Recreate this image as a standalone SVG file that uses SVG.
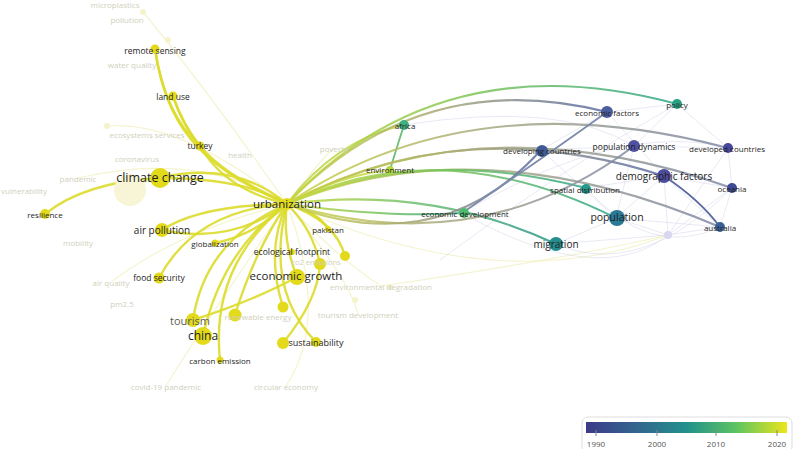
<svg xmlns="http://www.w3.org/2000/svg" width="797" height="449" viewBox="0 0 797 449">
<defs>
<style>
text{font-family:"Open Sans","Liberation Sans",sans-serif;text-anchor:middle;dominant-baseline:central}
.lb{fill:#1e1e1e;font-size:8.5px}
.fd{fill:#d0d0bc;font-size:8px}
.y{fill:#e3da1c}
.fn{fill:#f5f3cc}
.e{fill:none;stroke-linecap:round}
.ey{stroke:#dcdc2c;stroke-width:2.4;opacity:.9}
.er{stroke-width:2.1;opacity:.85}
.ef{stroke:#cfcfe8;stroke-width:1;opacity:.45}
.efy{stroke:#efedb0;stroke-width:1.2;opacity:.6}
</style>
<linearGradient id="gTeal" x1="0" y1="0" x2="1" y2="0"><stop offset="0" stop-color="#c9d93a"/><stop offset=".5" stop-color="#7cc45a"/><stop offset="1" stop-color="#2fa58a"/></linearGradient>
<linearGradient id="gBlue" x1="0" y1="0" x2="1" y2="0"><stop offset="0" stop-color="#c9d440"/><stop offset=".5" stop-color="#a7a77a"/><stop offset="1" stop-color="#5a6aa4"/></linearGradient>
<linearGradient id="gGray" x1="0" y1="0" x2="1" y2="0"><stop offset="0" stop-color="#cdd63e"/><stop offset=".45" stop-color="#a9aa82"/><stop offset="1" stop-color="#8088a6"/></linearGradient>
<linearGradient id="gMig" x1="0" y1="0" x2="1" y2="0"><stop offset="0" stop-color="#cfdb36"/><stop offset=".5" stop-color="#68be70"/><stop offset="1" stop-color="#27948c"/></linearGradient>
<linearGradient id="legend" x1="0" y1="0" x2="1" y2="0"><stop offset="0" stop-color="#3c3a88"/><stop offset=".25" stop-color="#33648e"/><stop offset=".5" stop-color="#21918c"/><stop offset=".75" stop-color="#5ec461"/><stop offset="1" stop-color="#ece51a"/></linearGradient>
</defs>
<rect width="797" height="449" fill="#ffffff"/>

<g id="connectors">
<path class="e efy" d="M287,204 Q200,80 143,12"/>
<path class="e efy" d="M287,204 Q180,120 107,126"/>
<path class="e efy" d="M287,204 Q200,150 78,178"/>
<path class="e efy" d="M287,204 Q180,230 111,282"/>
<path class="e efy" d="M287,204 Q330,320 286,386"/>
<path class="e efy" d="M287,204 Q340,260 381,286"/>
<path class="e efy" d="M287,204 Q350,280 358,314"/>
<path class="e efy" d="M287,204 Q200,330 166,386"/>
<path class="e efy" d="M287,204 Q320,160 334,148"/>
<path class="e efy" d="M130,190 Q200,150 287,204"/>
<path class="e efy" d="M287,204 Q500,300 668,235"/>
<path class="e efy" d="M381,286 Q560,260 668,235"/>
<path class="e ef" d="M541,150 L607,112 L677,104 L728,148 L732,188 L720,227 L668,235 L616,218 L556,244"/>
<path class="e ef" d="M541,150 L634,146 L728,148"/>
<path class="e ef" d="M586,188 L664,176 L732,188"/>
<path class="e ef" d="M616,218 L664,176 L668,235 L732,188"/>
<path class="e ef" d="M607,112 L664,176 L720,227"/>
<path class="e ef" d="M677,104 L634,146 L616,218"/>
<path class="e ef" d="M541,150 L616,218 L720,227"/>
<path class="e ef" d="M556,244 L668,235 L728,148"/>
<path class="e ef" d="M586,188 Q650,260 720,227"/>
<path class="e ef" d="M462,213 Q600,290 668,235"/>
<path class="e ef" d="M556,244 Q640,280 732,188"/>
<path class="e ef" d="M404,125 Q560,100 634,146"/>
<path class="e ef" d="M440,260 Q560,170 677,104"/>
<path class="e ef" d="M462,213 Q620,120 728,148"/>

<path class="e ey" d="M155,49 Q165,115 200,146"/>
<path class="e ey" d="M173,96 Q183,125 200,146"/>
<path class="e ey" d="M155,49 C165,120 195,165 287,204"/>
<path class="e ey" d="M173,96 C190,150 225,175 287,204"/>
<path class="e ey" d="M200,146 Q225,190 287,204"/>
<path class="e ey" d="M160,178 Q235,160 287,204"/>
<path class="e ey" d="M160,178 Q245,178 287,204"/>
<path class="e ey" d="M45,214 Q85,182 160,178"/>
<path class="e ey" d="M162,230 Q230,245 287,204"/>
<path class="e ey" d="M162,230 Q200,205 287,204"/>
<path class="e ey" d="M215,243 Q255,235 287,204"/>
<path class="e ey" d="M159,278 Q195,210 287,204"/>
<path class="e ey" d="M193,320 Q205,240 287,204"/>
<path class="e ey" d="M203,336 Q222,250 287,204"/>
<path class="e ey" d="M220,360 Q210,265 287,204"/>
<path class="e ey" d="M235,315 Q255,250 287,204"/>
<path class="e ey" d="M193,320 Q255,300 297,277"/>
<path class="e ey" d="M283,307 Q265,250 287,204"/>
<path class="e ey" d="M297,277 Q282,240 287,204"/>
<path class="e ey" d="M316,342 Q265,290 287,204"/>
<path class="e ey" d="M283,343 Q318,300 320,264"/>
<path class="e ey" d="M287,204 Q312,228 320,264"/>
<path class="e ey" d="M287,204 Q335,220 345,256"/>
<path class="e ey" d="M287,204 Q318,212 328,229"/>

<path class="e er" stroke="#bcd744" d="M287,204 Q335,140 404,125"/>
<path class="e er" stroke="#c6da3c" d="M287,204 Q340,175 390,170"/>
<path class="e" stroke="#6cbf74" stroke-width="1.8" d="M404,125 Q396,150 390,170"/>
<path class="e er" stroke="url(#gTeal)" d="M287,204 Q440,40 677,104"/>
<path class="e er" stroke="url(#gBlue)" d="M287,204 Q420,65 607,112"/>
<path class="e er" stroke="url(#gGray)" d="M287,204 Q470,80 728,148"/>
<path class="e er" stroke="url(#gGray)" d="M287,204 Q480,100 732,188"/>
<path class="e er" stroke="url(#gBlue)" d="M287,204 Q460,110 664,176"/>
<path class="e er" stroke="url(#gGray)" d="M287,204 Q480,125 720,227"/>
<path class="e er" stroke="url(#gTeal)" d="M287,204 Q440,130 616,218"/>
<path class="e er" stroke="url(#gTeal)" d="M287,204 Q420,145 586,188"/>
<path class="e er" stroke="url(#gMig)" d="M287,204 Q430,185 556,244"/>
<path class="e er" stroke="url(#gTeal)" d="M287,204 Q390,218 462,213"/>
<path class="e er" stroke="url(#gGray)" d="M287,204 Q480,262 634,146"/>
<path class="e er" stroke="url(#gBlue)" d="M287,204 Q440,262 541,150"/>
<path class="e" stroke="#7d8cac" stroke-width="1.8" d="M607,112 Q540,160 462,213"/>
<path class="e" stroke="#5a6aa0" stroke-width="1.8" d="M664,176 Q700,200 720,227"/>
</g>

<g id="n-microplastics"><circle class="fn" cx="143" cy="12" r="3"/><text class="fd" x="115" y="4">microplastics</text></g>
<g id="n-pollution"><circle class="fn" cx="168" cy="40" r="3"/><text class="fd" x="127" y="19">pollution</text></g>
<g id="n-water-quality"><text class="fd" x="132" y="64">water quality</text></g>
<g id="n-ecosystems-services"><circle class="fn" cx="107" cy="126" r="3"/><text class="fd" x="147" y="134">ecosystems services</text></g>
<g id="n-coronavirus"><text class="fd" x="137" y="158">coronavirus</text></g>
<g id="n-health"><text class="fd" x="240" y="154">health</text></g>
<g id="n-poverty"><text class="fd" x="334" y="148">poverty</text></g>
<g id="n-pandemic"><text class="fd" x="78" y="178">pandemic</text></g>
<g id="n-vulnerability"><text class="fd" x="24" y="190">vulnerability</text></g>
<g id="n-covid"><circle cx="130" cy="190" r="16" fill="#f7f5d6"/></g>
<g id="n-mobility"><text class="fd" x="78" y="242">mobility</text></g>
<g id="n-air-quality"><text class="fd" x="111" y="282">air quality</text></g>
<g id="n-pm25"><text class="fd" x="122" y="303">pm2.5</text></g>
<g id="n-environmental-degradation"><circle class="fn" cx="390" cy="287" r="3"/><text class="fd" x="381" y="286">environmental degradation</text></g>
<g id="n-tourism-development"><circle class="fn" cx="355" cy="300" r="3"/><text class="fd" x="358" y="314">tourism development</text></g>
<g id="n-covid-19-pandemic"><text class="fd" x="166" y="386">covid-19 pandemic</text></g>
<g id="n-circular-economy"><text class="fd" x="286" y="386">circular economy</text></g>
<g id="n-faded-right"><circle cx="668" cy="235" r="4" fill="#d9d7ef"/></g>

<g id="n-remote-sensing"><circle class="y" cx="155" cy="49" r="4.5"/><text class="lb" x="155" y="50">remote sensing</text></g>
<g id="n-land-use"><circle class="y" cx="173" cy="96" r="4.5"/><text class="lb" x="173" y="96">land use</text></g>
<g id="n-turkey"><circle class="y" cx="200" cy="146" r="4.5"/><text class="lb" x="200" y="145">turkey</text></g>
<g id="n-climate-change"><circle class="y" cx="160" cy="178" r="10"/><text class="lb" x="160" y="177" style="font-size:12.5px">climate change</text></g>
<g id="n-resilience"><circle class="y" cx="45" cy="214" r="5"/><text class="lb" x="45" y="214" style="font-size:8px">resilience</text></g>
<g id="n-air-pollution"><circle class="y" cx="162" cy="230" r="7"/><text class="lb" x="162" y="230" style="font-size:10px">air pollution</text></g>
<g id="n-globalization"><circle class="y" cx="215" cy="243" r="3.5"/><text class="lb" x="215" y="243" style="font-size:8px">globalization</text></g>
<g id="n-food-security"><circle class="y" cx="159" cy="278" r="5.5"/><text class="lb" x="159" y="277">food security</text></g>
<g id="n-pakistan"><circle class="y" cx="328" cy="229" r="3"/><text class="lb" x="328" y="229" style="font-size:8px">pakistan</text></g>
<g id="n-ecological-footprint"><circle class="y" cx="292" cy="252" r="3"/><text class="lb" x="292" y="251">ecological footprint</text></g>
<g id="n-co2-emissions"><circle class="y" cx="320" cy="264" r="6"/><text class="fd" x="316" y="262" style="font-size:7.5px">co2 emissions</text></g>
<g id="n-345"><circle class="y" cx="345" cy="256" r="5"/></g>
<g id="n-economic-growth"><circle class="y" cx="297" cy="277" r="8"/><text class="lb" x="296" y="275" style="font-size:11.5px">economic growth</text></g>
<g id="n-283"><circle class="y" cx="283" cy="307" r="5.5"/></g>
<g id="n-renewable-energy"><circle class="y" cx="235" cy="315" r="6.5"/><text class="fd" x="258" y="316">renewable energy</text></g>
<g id="n-tourism"><circle class="y" cx="193" cy="320" r="7"/><text class="lb" x="190" y="320" style="font-size:11px;fill:#5e5e52">tourism</text></g>
<g id="n-china"><circle class="y" cx="203" cy="336" r="9"/><text class="lb" x="203" y="335" style="font-size:12px">china</text></g>
<g id="n-carbon-emission"><circle class="y" cx="220" cy="360" r="3.5"/><text class="lb" x="220" y="360" style="font-size:8px">carbon emission</text></g>
<g id="n-283b"><circle class="y" cx="283" cy="343" r="6"/></g>
<g id="n-sustainability"><circle class="y" cx="316" cy="342" r="5"/><text class="lb" x="316" y="342" style="font-size:9px">sustainability</text></g>
<g id="n-urbanization"><circle class="y" cx="287" cy="204" r="6"/><text class="lb" x="287" y="203" style="font-size:11.5px">urbanization</text></g>

<g id="n-africa"><circle cx="404" cy="125" r="5" fill="#3fb07f"/><text class="lb" x="405" y="125" style="font-size:8px">africa</text></g>
<g id="n-environment"><circle cx="390" cy="170" r="4" fill="#b3d83c"/><text class="lb" x="390" y="169" style="font-size:8px">environment</text></g>
<g id="n-economic-development"><circle cx="464" cy="213" r="5" fill="#4cba6f"/><text class="lb" x="465" y="213" style="font-size:8px">economic development</text></g>
<g id="n-developing-countries"><circle cx="542" cy="151" r="6" fill="#3f5a96"/><text class="lb" x="542" y="150" style="font-size:8px">developing countries</text></g>
<g id="n-economic-factors"><circle cx="607" cy="112" r="6" fill="#4a5d9c"/><text class="lb" x="607" y="112" style="font-size:8px">economic factors</text></g>
<g id="n-policy"><circle cx="677" cy="104" r="5" fill="#2aa183"/><text class="lb" x="677" y="104" style="font-size:8px">policy</text></g>
<g id="n-population-dynamics"><circle cx="634" cy="146" r="6" fill="#5151a2"/><text class="lb" x="634" y="146">population dynamics</text></g>
<g id="n-developed-countries"><circle cx="728" cy="148" r="5" fill="#46479a"/><text class="lb" x="727" y="148" style="font-size:8px">developed countries</text></g>
<g id="n-demographic-factors"><circle cx="664" cy="176" r="7" fill="#4d4d9e"/><text class="lb" x="664" y="176" style="font-size:10px">demographic factors</text></g>
<g id="n-oceania"><circle cx="732" cy="188" r="5" fill="#3d4a94"/><text class="lb" x="732" y="188" style="font-size:8px">oceania</text></g>
<g id="n-spatial-distribution"><circle cx="586" cy="189" r="5" fill="#25998a"/><text class="lb" x="585" y="189" style="font-size:8px">spatial distribution</text></g>
<g id="n-population"><circle cx="617" cy="218" r="8" fill="#2a7a96"/><text class="lb" x="617" y="217" style="font-size:10.5px">population</text></g>
<g id="n-australia"><circle cx="720" cy="227" r="5" fill="#3a6196"/><text class="lb" x="720" y="227" style="font-size:8px">australia</text></g>
<g id="n-migration"><circle cx="556" cy="244" r="7" fill="#258e8d"/><text class="lb" x="556" y="244" style="font-size:10px">migration</text></g>

<g id="legend-box">
<rect x="582" y="417" width="210" height="36" rx="6" fill="#ffffff" stroke="#dedede"/>
<rect x="586" y="422" width="201" height="11" fill="url(#legend)"/>
<g stroke="#888" stroke-width="1"><line x1="596" y1="430" x2="596" y2="436"/><line x1="657" y1="430" x2="657" y2="436"/><line x1="716" y1="430" x2="716" y2="436"/><line x1="777" y1="430" x2="777" y2="436"/></g>
<g style="font-size:8px;fill:#555"><text x="596" y="443">1990</text><text x="657" y="443">2000</text><text x="716" y="443">2010</text><text x="777" y="443">2020</text></g>
</g>
</svg>
